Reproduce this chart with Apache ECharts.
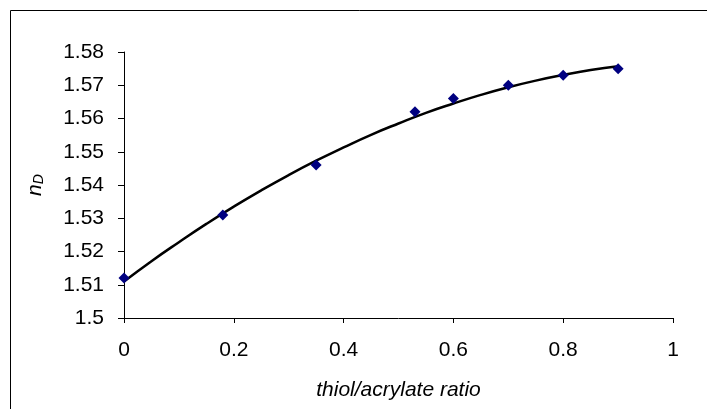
<!DOCTYPE html>
<html>
<head>
<meta charset="utf-8">
<script src="https://cdn.jsdelivr.net/npm/echarts@6/dist/echarts.min.js"></script>
<style>
  html, body { margin: 0; padding: 0; background: #fff; }
  #chart { width: 707px; height: 409px; }
</style>
</head>
<body>
<div id="chart"></div>
<script>
// 测量点
var ratio = [0, 0.18, 0.35, 0.53, 0.6, 0.7, 0.8, 0.9];
var nD = [1.512, 1.531, 1.546, 1.562, 1.566, 1.570, 1.573, 1.575];

// 趋势线
var trendX = [0, 0.05, 0.1, 0.15, 0.2, 0.25, 0.3, 0.35, 0.4, 0.45, 0.5,
              0.55, 0.6, 0.65, 0.7, 0.75, 0.8, 0.85, 0.9];
var trendY = [1.5110, 1.5171, 1.5228, 1.5283, 1.5335, 1.5384, 1.5430, 1.5473,
              1.5513, 1.5551, 1.5585, 1.5617, 1.5645, 1.5671, 1.5694, 1.5714,
              1.5731, 1.5746, 1.5757];

var font = 'Liberation Sans, Arial, sans-serif';

var chart = echarts.init(document.getElementById('chart'));
chart.setOption({
    animation: false,
    graphic: [{
        type: 'rect',
        shape: { x: 10.5, y: 10.5, width: 760, height: 460 },
        style: { fill: 'none', stroke: '#000', lineWidth: 1 }
    }],
    grid: { left: 124, top: 52, right: 34, bottom: 91 },
    xAxis: {
        type: 'value',
        min: 0,
        max: 1,
        interval: 0.2,
        name: 'thiol/acrylate ratio',
        nameLocation: 'middle',
        nameGap: 62,
        nameTextStyle: { fontFamily: font, fontSize: 21, fontStyle: 'italic', color: '#000' },
        axisLine: { lineStyle: { color: '#000', width: 1 } },
        axisTick: { length: 5, lineStyle: { color: '#000' } },
        axisLabel: { margin: 22, fontFamily: font, fontSize: 21, color: '#000' },
        splitLine: { show: false }
    },
    yAxis: {
        type: 'value',
        min: 1.5,
        max: 1.58,
        interval: 0.01,
        name: '{n|n}{d|D}',
        nameLocation: 'middle',
        nameRotate: 90,
        nameGap: 78,
        nameTextStyle: {
            rich: {
                n: { fontFamily: font, fontSize: 21, fontStyle: 'italic', color: '#000' },
                d: { fontFamily: font, fontSize: 14, fontStyle: 'italic', color: '#000', padding: [8, 0, 0, 0] }
            }
        },
        axisLine: { show: true, lineStyle: { color: '#000', width: 1 } },
        axisTick: { show: true, length: 6, lineStyle: { color: '#000' } },
        axisLabel: {
            margin: 20,
            fontFamily: font,
            fontSize: 21,
            color: '#000',
            formatter: function (v) { return String(parseFloat(v.toFixed(2))); }
        },
        splitLine: { show: false }
    },
    series: [
        {
            type: 'line',
            data: trendX.map(function (x, i) { return [x, trendY[i]]; }),
            smooth: true,
            showSymbol: false,
            lineStyle: { color: '#000', width: 2.5 },
            z: 2
        },
        {
            type: 'scatter',
            data: ratio.map(function (x, i) { return [x, nD[i]]; }),
            symbol: 'diamond',
            symbolSize: 11,
            itemStyle: { color: '#000080', opacity: 1 },
            z: 3
        }
    ]
});
</script>
</body>
</html>
